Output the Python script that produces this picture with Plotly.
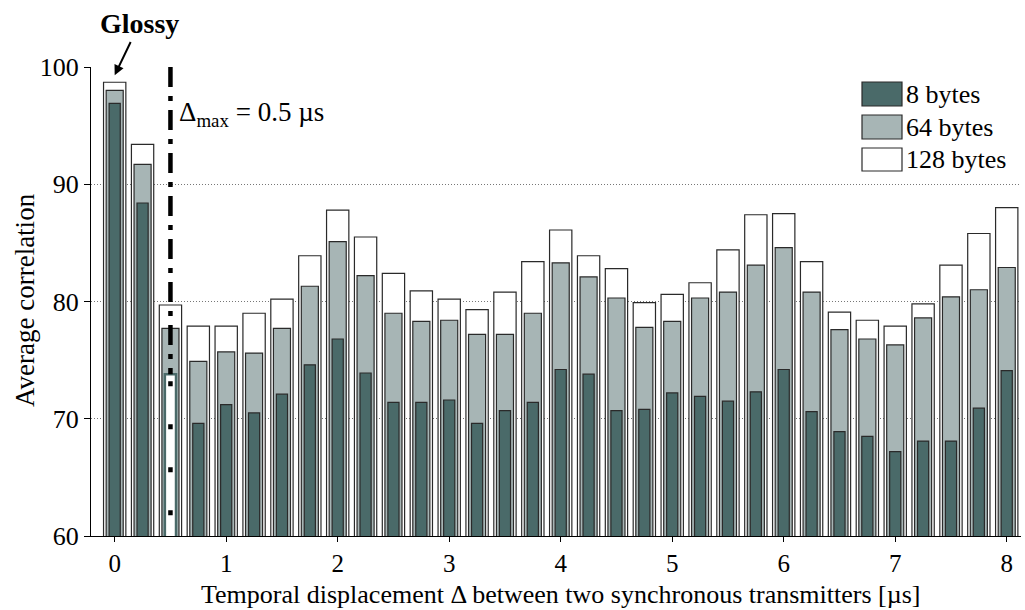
import plotly.graph_objects as go

# Temporal displacement between the two transmitters [µs]
displacement = [0, 0.25, 0.5, 0.75, 1, 1.25, 1.5, 1.75, 2, 2.25, 2.5, 2.75, 3,
                3.25, 3.5, 3.75, 4, 4.25, 4.5, 4.75, 5, 5.25, 5.5, 5.75, 6,
                6.25, 6.5, 6.75, 7, 7.25, 7.5, 7.75, 8]

# Average correlation per payload size
corr_128 = [98.7, 93.4, 79.7, 77.9, 77.9, 79.0, 80.2, 83.9, 87.8, 85.5, 82.4,
            80.9, 80.2, 79.3, 80.8, 83.4, 86.1, 83.9, 82.8, 79.9, 80.6, 81.6,
            84.4, 87.4, 87.5, 83.4, 79.1, 78.4, 77.9, 79.8, 83.1, 85.8, 88.0]
corr_64 = [98.0, 91.7, 77.7, 74.9, 75.7, 75.6, 77.7, 81.3, 85.1, 82.2, 79.0,
           78.3, 78.4, 77.2, 77.2, 79.0, 83.3, 82.1, 80.3, 77.8, 78.3, 80.3,
           80.8, 83.1, 84.6, 80.8, 77.6, 76.8, 76.3, 78.6, 80.4, 81.0, 82.9]
corr_8 = [96.9, 88.4, 73.8, 69.6, 71.2, 70.5, 72.1, 74.6, 76.8, 73.9, 71.4,
          71.4, 71.6, 69.6, 70.7, 71.4, 74.2, 73.8, 70.7, 70.8, 72.2, 71.9,
          71.5, 72.3, 74.2, 70.6, 68.9, 68.5, 67.2, 68.1, 68.1, 70.9, 74.1]

series_names = ["8 bytes", "64 bytes", "128 bytes"]
delta_max = 0.5
x_ticks = [0, 1, 2, 3, 4, 5, 6, 7, 8]
y_ticks = [60, 70, 80, 90, 100]

FONT = '"Liberation Serif", "Times New Roman", "DejaVu Serif", serif'
DARK = "#4a6a69"
GREY = "#a7b5b5"
EDGE = "#2a2a2a"

# plot-area pixel geometry
L, R, T, B = 91, 1021, 67, 536
W, H = R - L, B - T


def px(xp):
    return (xp - L) / W


def py(yp):
    return (B - yp) / H


fig = go.Figure()

fig.add_trace(go.Bar(x=displacement, y=corr_128, width=0.2, name=series_names[2],
                     marker=dict(color="white", line=dict(color=EDGE, width=1.2))))
fig.add_trace(go.Bar(x=displacement, y=corr_64, width=0.153, name=series_names[1],
                     marker=dict(color=GREY, line=dict(color=EDGE, width=1.2))))

# the bar at Δmax is highlighted with a hollow fill
idx_dm = displacement.index(delta_max)
fill_8 = [DARK] * len(displacement)
fill_8[idx_dm] = "white"
edge_8 = [EDGE] * len(displacement)
edge_8[idx_dm] = DARK
w_8 = [1.2] * len(displacement)
w_8[idx_dm] = 2.5
fig.add_trace(go.Bar(x=displacement, y=corr_8, width=0.1, name=series_names[0],
                     marker=dict(color=fill_8, line=dict(color=edge_8, width=w_8))))

shapes = [
    # Δmax marker line
    dict(type="line", xref="x", yref="y", x0=delta_max, x1=delta_max,
         y0=100, y1=corr_8[idx_dm],
         line=dict(color="black", width=4.5, dash="20px,9px,5px,9px")),
    dict(type="line", xref="x", yref="y", x0=delta_max, x1=delta_max,
         y0=corr_8[idx_dm] - 0.6, y1=60,
         line=dict(color="black", width=4.5, dash="5px,38px")),
]

# legend swatches
legend_rows = [(82, 106, DARK), (115, 139, GREY), (148, 171, "white")]
annotations = []
for name, (y0, y1, col) in zip(series_names, legend_rows):
    shapes.append(dict(type="rect", xref="paper", yref="paper",
                       x0=px(862), x1=px(902), y0=py(y1), y1=py(y0),
                       fillcolor=col, line=dict(color=EDGE, width=1.2)))
    annotations.append(dict(xref="paper", yref="paper", x=px(904), y=py((y0 + y1) / 2),
                            text=name, showarrow=False, xanchor="left", yanchor="middle",
                            font=dict(family=FONT, size=26, color="black")))

annotations += [
    # label with arrow pointing at the Glossy bar (Δ = 0)
    dict(xref="x", yref="y", x=0, y=99.3, ax=25, ay=-52, text="<b>Glossy</b>",
         showarrow=True, arrowhead=2, arrowsize=1, arrowwidth=2, arrowcolor="black",
         standoff=0, startstandoff=2,
         font=dict(family=FONT, size=28, color="black")),
    dict(xref="paper", yref="paper", x=px(177), y=py(114),
         text="Δ<sub>max</sub> = 0.5 µs", showarrow=False, xanchor="left",
         yanchor="middle", font=dict(family=FONT, size=27, color="black")),
    # axis titles
    dict(xref="paper", yref="paper", x=px(25), y=py(300), text="Average correlation",
         textangle=-90, showarrow=False, xanchor="center", yanchor="middle",
         font=dict(family=FONT, size=27, color="black")),
    dict(xref="paper", yref="paper", x=px(560), y=py(594),
         text="Temporal displacement Δ between two synchronous transmitters [µs]",
         showarrow=False, xanchor="center", yanchor="middle",
         font=dict(family=FONT, size=26, color="black")),
]

fig.update_layout(
    width=1025, height=610,
    margin=dict(l=L, r=1025 - R, t=T, b=610 - B),
    barmode="overlay",
    showlegend=False,
    plot_bgcolor="white", paper_bgcolor="white",
    font=dict(family=FONT, size=26, color="black"),
    shapes=shapes,
    annotations=annotations,
)
fig.update_xaxes(range=[-0.2125, 8.128], tickvals=x_ticks, ticks="outside", ticklen=5,
                 tickcolor="black", showline=True, linecolor="black", linewidth=1,
                 showgrid=False, zeroline=False,
                 tickfont=dict(family=FONT, size=25, color="black"))
fig.update_yaxes(range=[60, 100], tickvals=y_ticks, ticks="outside", ticklen=6,
                 tickcolor="black", showline=True, linecolor="black", linewidth=1,
                 showgrid=True, gridcolor="#777777", gridwidth=1, griddash="1px,2px",
                 zeroline=False, tickfont=dict(family=FONT, size=26, color="black"))

fig.write_html("out.html")
